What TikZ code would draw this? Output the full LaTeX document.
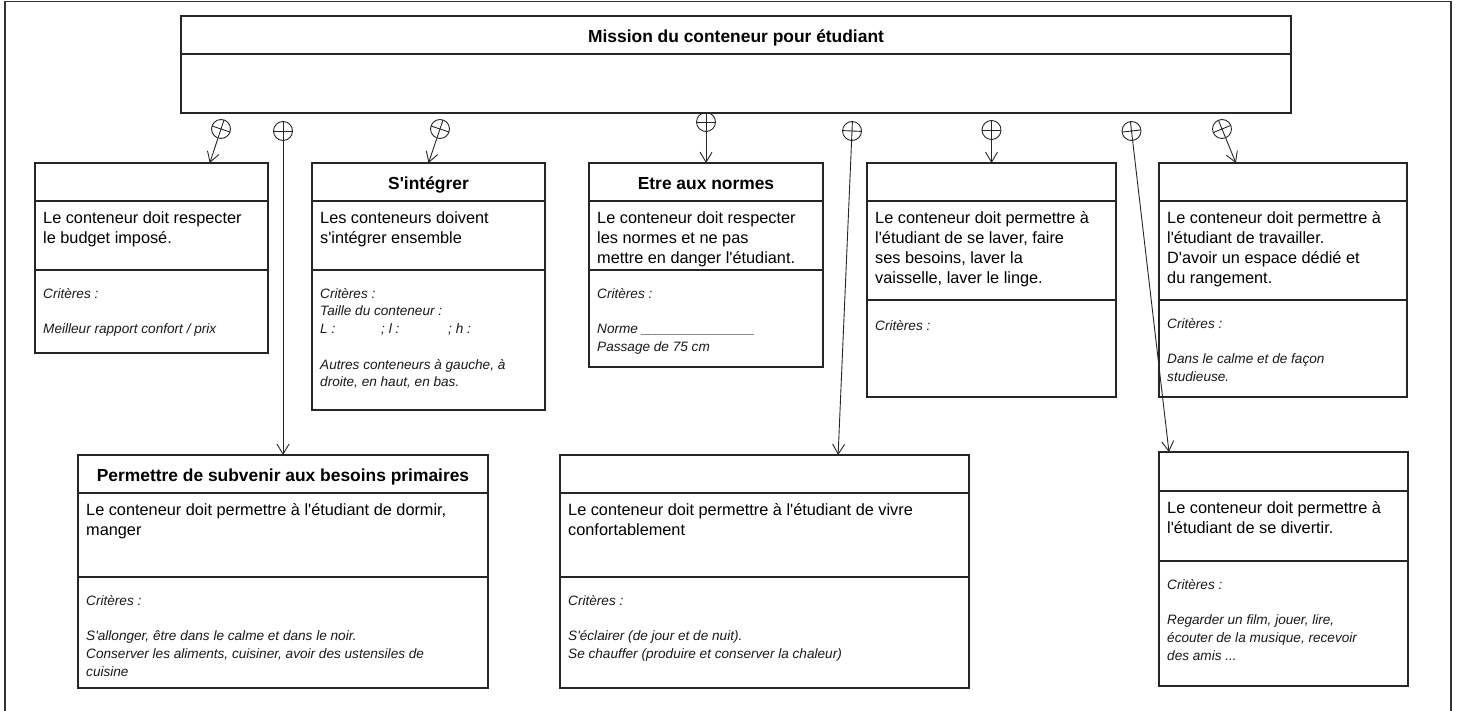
\documentclass[tikz,border=0pt]{standalone}
\usepackage{fontspec}
\newfontfamily\drawfont{Liberation Sans}
\usetikzlibrary{arrows.meta, calc, positioning}
\tikzset{
  >=latex,
  % Boites de mission
  box/.style={rectangle,draw=black!85,line width=1.2pt,anchor=north west,inner sep=0pt,outer sep=0pt},
  box line/.style={draw=black!85,line width=1.2pt},
  box title/.style={anchor=base,inner sep=0pt,font=\drawfont\bfseries\fontsize{17.4}{20}\selectfont},
  box text/.style={anchor=north west,inner sep=0pt,align=left,execute at begin node=\strut,
    font=\drawfont\fontsize{16.3}{20}\selectfont},
  box crit/.style={anchor=north west,inner sep=0pt,align=left,execute at begin node=\strut,
    text=black!90,font=\drawfont\itshape\fontsize{13.6}{17.7}\selectfont},
  % Liaisons
  plus ring/.style={circle,draw=black!85,line width=0.9pt,minimum size=19pt,inner sep=0pt},
  ring cross/.style={draw=black!85,line width=0.9pt},
  link/.style={-{Straight Barb[length=10pt,width=12pt]},line width=0.9pt,draw=black!85}
}
\begin{document}
\begin{tikzpicture}[x=1pt,y=-1pt]
  \useasboundingbox (0,0) rectangle (1458,711);
  \draw[black!80,line width=1.3pt] (5,715) -- (5,1.5) -- (1451,1.5) -- (1451,715);

  % mission
  \node[box,minimum width=1110,minimum height=97] (mission) at (181,16) {};
  \draw[box line] (181,54) -- (1291,54);
  \node[box title] at (736,42.5) {Mission du conteneur pour étudiant};

  % budget
  \node[box,minimum width=233,minimum height=190] (budget) at (35,163) {};
  \draw[box line] (35,201) -- (268,201) (35,270) -- (268,270);
  \node[box text] at (43,211.5) {Le conteneur doit respecter\\le budget imposé.};
  \node[box crit] at (43,288) {Critères :\\~\\Meilleur rapport confort / prix};

  % s'integrer
  \node[box,minimum width=233,minimum height=247] (integrer) at (312,163) {};
  \draw[box line] (312,201) -- (545,201) (312,270) -- (545,270);
  \node[box title] at (428.5,189.5) {S'intégrer};
  \node[box text] at (320,211.5) {Les conteneurs doivent\\s'intégrer ensemble};
  \node[box crit] at (320,288) {Critères :\\Taille du conteneur :\\
    \makebox[61pt][l]{L :}\makebox[67pt][l]{; l :}; h :\\~\\
    Autres conteneurs à gauche, à\\droite, en haut, en bas.};

  % normes
  \node[box,minimum width=234,minimum height=204] (normes) at (589,163) {};
  \draw[box line] (589,201) -- (823,201) (589,270) -- (823,270);
  \node[box title] at (706,189.5) {Etre aux normes};
  \node[box text] at (597,211.5) {Le conteneur doit respecter\\les normes et ne pas\\mettre en danger l'étudiant.};
  \node[box crit] at (597,288) {Critères :\\~\\Norme \_\_\_\_\_\_\_\_\_\_\_\_\_\_\_\\Passage de 75 cm};

  % laver
  \node[box,minimum width=249,minimum height=234] (laver) at (867,163) {};
  \draw[box line] (867,201) -- (1116,201) (867,300) -- (1116,300);
  \node[box text] at (875,211.5) {Le conteneur doit permettre à\\l'étudiant de se laver, faire\\ses besoins, laver la\\vaisselle, laver le linge.};
  \node[box crit] at (875,318) {Critères :};

  % travailler
  \node[box,minimum width=248,minimum height=234] (travail) at (1159,163) {};
  \draw[box line] (1159,201) -- (1407,201) (1159,300) -- (1407,300);
  \node[box text] at (1167,211.5) {Le conteneur doit permettre à\\l'étudiant de travailler.\\D'avoir un espace dédié et\\du rangement.};
  \node[box crit] at (1167,318) {Critères :\\~\\Dans le calme et de façon\\studieuse.};

  % besoins primaires
  \node[box,minimum width=410,minimum height=233] (primaire) at (78,455) {};
  \draw[box line] (78,493) -- (488,493) (78,577) -- (488,577);
  \node[box title] at (283,481.5) {Permettre de subvenir aux besoins primaires};
  \node[box text] at (86,503.5) {Le conteneur doit permettre à l'étudiant de dormir,\\manger};
  \node[box crit] at (86,595) {Critères :\\~\\S'allonger, être dans le calme et dans le noir.\\Conserver les aliments, cuisiner, avoir des ustensiles de\\cuisine};

  % confort
  \node[box,minimum width=409,minimum height=233] (confort) at (560,455) {};
  \draw[box line] (560,493) -- (969,493) (560,577) -- (969,577);
  \node[box text] at (568,503.5) {Le conteneur doit permettre à l'étudiant de vivre\\confortablement};
  \node[box crit] at (568,595) {Critères :\\~\\S'éclairer (de jour et de nuit).\\Se chauffer (produire et conserver la chaleur)};

  % divertir
  \node[box,minimum width=249,minimum height=234] (divertir) at (1159,452) {};
  \draw[box line] (1159,491) -- (1408,491) (1159,561) -- (1408,561);
  \node[box text] at (1167,501.5) {Le conteneur doit permettre à\\l'étudiant de se divertir.};
  \node[box crit] at (1167,579) {Critères :\\~\\Regarder un film, jouer, lire,\\écouter de la musique, recevoir\\des amis ...};

  % liaisons
  \node[plus ring] (rbudget) at (221,129) {};
  \node[plus ring] (rprimaire) at (283,131) {};
  \node[plus ring] (rintegrer) at (440,129) {};
  \node[plus ring] (rnormes) at (706,122) {};
  \node[plus ring] (rconfort) at (852,131) {};
  \node[plus ring] (rlaver) at (991.5,130) {};
  \node[plus ring] (rdivertir) at (1131.5,131) {};
  \node[plus ring] (rtravail) at (1222,129) {};
  \coordinate (tbudget) at ($(budget.north west)!.75!(budget.north east)$);
  \coordinate (tprimaire) at (primaire.north);
  \coordinate (tintegrer) at (integrer.north);
  \coordinate (tnormes) at (normes.north);
  \coordinate (tconfort) at ($(confort.north west)!.68!(confort.north east)$);
  \coordinate (tlaver) at (laver.north);
  \coordinate (tdivertir) at ($(divertir.north west)!.04!(divertir.north east)$);
  \coordinate (ttravail) at ($(travail.north west)!.31!(travail.north east)$);
  \foreach \src/\dst in {rbudget/tbudget,rprimaire/tprimaire,rintegrer/tintegrer,rnormes/tnormes,
      rconfort/tconfort,rlaver/tlaver,rdivertir/tdivertir,rtravail/ttravail}{
    \draw[link] (\src) -- (\dst);
    \draw[ring cross] ($(\src.center)!9.5pt!(\dst)$) -- ($(\src.center)!9.5pt!180:(\dst)$)
      ($(\src.center)!9.5pt!90:(\dst)$) -- ($(\src.center)!9.5pt!-90:(\dst)$);
  }
\end{tikzpicture}
\end{document}
